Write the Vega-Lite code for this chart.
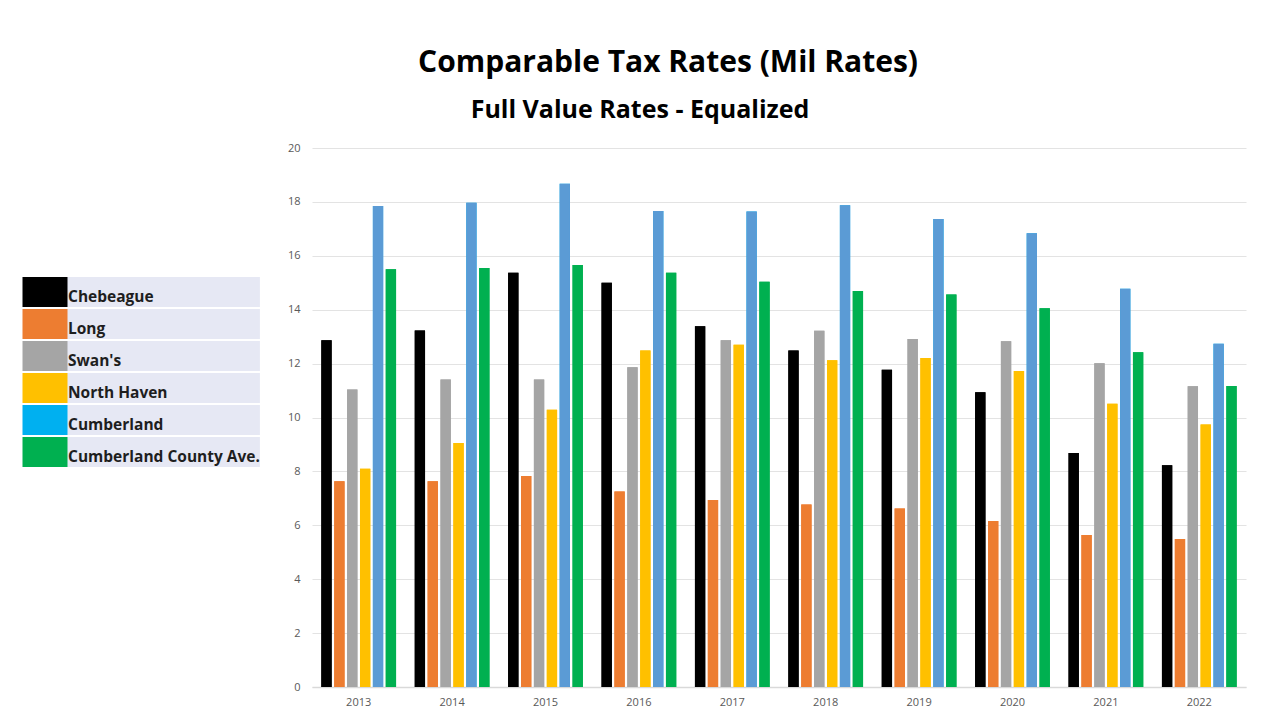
{
  "$schema": "https://vega.github.io/schema/vega-lite/v6.json",
  "width": 934,
  "height": 539,
  "autosize": {"type": "none"},
  "padding": {"left": 312, "top": 148, "right": 30, "bottom": 32},
  "background": "white",
  "title": {
    "text": "Comparable Tax Rates  (Mil Rates)",
    "subtitle": "Full Value Rates - Equalized",
    "anchor": "middle",
    "dx": -111,
    "font": "Open Sans",
    "fontSize": 30,
    "fontWeight": "bold",
    "color": "#000000",
    "subtitleFont": "Open Sans",
    "subtitleFontSize": 25,
    "subtitleFontWeight": "bold",
    "subtitleColor": "#000000",
    "subtitlePadding": 20,
    "offset": 19,
    "encode": {
      "subtitle": {"update": {"dx": {"value": -139}}}
    }
  },
  "data": {
    "values": [
      {"year": "2013", "town": "Chebeague", "rate": 12.87},
      {"year": "2013", "town": "Long", "rate": 7.63},
      {"year": "2013", "town": "Swan's", "rate": 11.04},
      {"year": "2013", "town": "North Haven", "rate": 8.10},
      {"year": "2013", "town": "Cumberland", "rate": 17.85},
      {"year": "2013", "town": "Cumberland County Ave.", "rate": 15.50},
      {"year": "2014", "town": "Chebeague", "rate": 13.23},
      {"year": "2014", "town": "Long", "rate": 7.63},
      {"year": "2014", "town": "Swan's", "rate": 11.41},
      {"year": "2014", "town": "North Haven", "rate": 9.05},
      {"year": "2014", "town": "Cumberland", "rate": 17.97},
      {"year": "2014", "town": "Cumberland County Ave.", "rate": 15.55},
      {"year": "2015", "town": "Chebeague", "rate": 15.37},
      {"year": "2015", "town": "Long", "rate": 7.83},
      {"year": "2015", "town": "Swan's", "rate": 11.41},
      {"year": "2015", "town": "North Haven", "rate": 10.29},
      {"year": "2015", "town": "Cumberland", "rate": 18.67},
      {"year": "2015", "town": "Cumberland County Ave.", "rate": 15.66},
      {"year": "2016", "town": "Chebeague", "rate": 15.00},
      {"year": "2016", "town": "Long", "rate": 7.25},
      {"year": "2016", "town": "Swan's", "rate": 11.86},
      {"year": "2016", "town": "North Haven", "rate": 12.49},
      {"year": "2016", "town": "Cumberland", "rate": 17.66},
      {"year": "2016", "town": "Cumberland County Ave.", "rate": 15.37},
      {"year": "2017", "town": "Chebeague", "rate": 13.39},
      {"year": "2017", "town": "Long", "rate": 6.94},
      {"year": "2017", "town": "Swan's", "rate": 12.87},
      {"year": "2017", "town": "North Haven", "rate": 12.70},
      {"year": "2017", "town": "Cumberland", "rate": 17.64},
      {"year": "2017", "town": "Cumberland County Ave.", "rate": 15.04},
      {"year": "2018", "town": "Chebeague", "rate": 12.49},
      {"year": "2018", "town": "Long", "rate": 6.77},
      {"year": "2018", "town": "Swan's", "rate": 13.22},
      {"year": "2018", "town": "North Haven", "rate": 12.12},
      {"year": "2018", "town": "Cumberland", "rate": 17.88},
      {"year": "2018", "town": "Cumberland County Ave.", "rate": 14.69},
      {"year": "2019", "town": "Chebeague", "rate": 11.77},
      {"year": "2019", "town": "Long", "rate": 6.62},
      {"year": "2019", "town": "Swan's", "rate": 12.91},
      {"year": "2019", "town": "North Haven", "rate": 12.21},
      {"year": "2019", "town": "Cumberland", "rate": 17.37},
      {"year": "2019", "town": "Cumberland County Ave.", "rate": 14.56},
      {"year": "2020", "town": "Chebeague", "rate": 10.94},
      {"year": "2020", "town": "Long", "rate": 6.16},
      {"year": "2020", "town": "Swan's", "rate": 12.83},
      {"year": "2020", "town": "North Haven", "rate": 11.73},
      {"year": "2020", "town": "Cumberland", "rate": 16.84},
      {"year": "2020", "town": "Cumberland County Ave.", "rate": 14.05},
      {"year": "2021", "town": "Chebeague", "rate": 8.68},
      {"year": "2021", "town": "Long", "rate": 5.64},
      {"year": "2021", "town": "Swan's", "rate": 12.01},
      {"year": "2021", "town": "North Haven", "rate": 10.51},
      {"year": "2021", "town": "Cumberland", "rate": 14.78},
      {"year": "2021", "town": "Cumberland County Ave.", "rate": 12.42},
      {"year": "2022", "town": "Chebeague", "rate": 8.23},
      {"year": "2022", "town": "Long", "rate": 5.49},
      {"year": "2022", "town": "Swan's", "rate": 11.16},
      {"year": "2022", "town": "North Haven", "rate": 9.74},
      {"year": "2022", "town": "Cumberland", "rate": 12.74},
      {"year": "2022", "town": "Cumberland County Ave.", "rate": 11.17}
    ]
  },
  "encoding": {
    "x": {
      "field": "year",
      "type": "ordinal",
      "scale": {"paddingInner": 0.2, "paddingOuter": 0.1},
      "axis": {
        "title": null,
        "labelAngle": 0,
        "labelFont": "Open Sans",
        "labelFontSize": 11,
        "labelColor": "#595959",
        "labelPadding": 9,
        "ticks": false,
        "domainColor": "#D9D9D9",
        "domainWidth": 1.5,
        "grid": false
      }
    },
    "xOffset": {
      "field": "town",
      "type": "nominal",
      "sort": ["Chebeague", "Long", "Swan's", "North Haven", "Cumberland", "Cumberland County Ave."],
      "scale": {"paddingInner": 0.2, "paddingOuter": 0}
    },
    "y": {
      "field": "rate",
      "type": "quantitative",
      "scale": {"domain": [0, 20], "nice": false},
      "axis": {
        "title": null,
        "values": [0, 2, 4, 6, 8, 10, 12, 14, 16, 18, 20],
        "labelFont": "Open Sans",
        "labelFontSize": 11,
        "labelColor": "#595959",
        "labelPadding": 12,
        "ticks": false,
        "domain": false,
        "gridColor": "#E3E3E3",
        "gridWidth": 1.2
      }
    }
  },
  "layer": [
    {
      "mark": {"type": "bar"},
      "encoding": {
        "fill": {
          "field": "town",
          "type": "nominal",
          "scale": {
            "domain": ["Chebeague", "Long", "Swan's", "North Haven", "Cumberland", "Cumberland County Ave."],
            "range": ["#000000", "#ED7D31", "#A5A5A5", "#FFC000", "#00B0F0", "#00B050"]
          },
          "legend": {
            "title": null,
            "orient": "none",
            "legendX": -282,
            "legendY": 129,
            "padding": 0,
            "symbolType": "M-1.5,-1H1.5V1H-1.5Z",
            "symbolSize": 900,
            "symbolStrokeWidth": 0,
            "symbolOpacity": 1,
            "labelFont": "Open Sans",
            "labelFontSize": 15.5,
            "labelFontWeight": "bold",
            "labelColor": "#1E1E1E",
            "labelOffset": 8,
            "labelLimit": 400,
            "rowPadding": 2,
            "encode": {
              "entries": {
                "update": {
                  "fill": {"value": "#E6E8F4"},
                  "width": {"value": 266},
                  "height": {"value": 30}
                }
              },
              "labels": {
                "update": {"dy": {"value": 5}}
              }
            }
          }
        }
      }
    },
    {
      "mark": {"type": "bar"},
      "encoding": {
        "color": {
          "field": "town",
          "type": "nominal",
          "scale": {
            "domain": ["Chebeague", "Long", "Swan's", "North Haven", "Cumberland", "Cumberland County Ave."],
            "range": ["#000000", "#ED7D31", "#A5A5A5", "#FFC000", "#5B9BD5", "#00B050"]
          },
          "legend": null
        }
      }
    }
  ],
  "config": {"view": {"stroke": null}}
}
